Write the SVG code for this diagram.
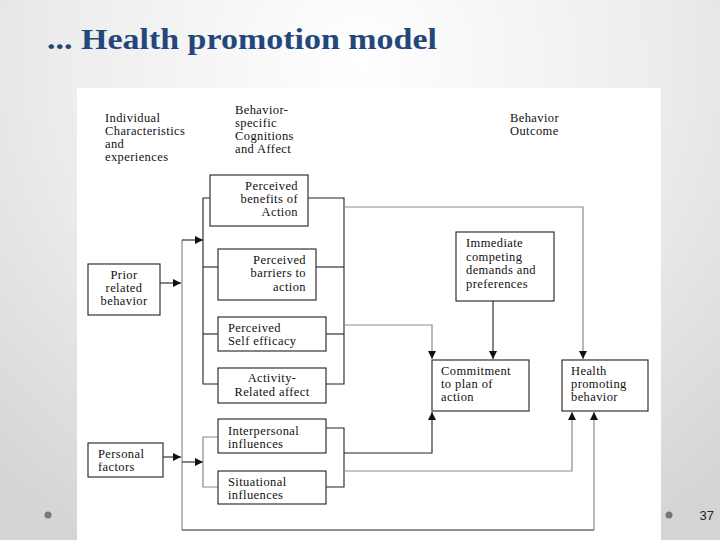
<svg xmlns="http://www.w3.org/2000/svg" width="720" height="540" viewBox="0 0 720 540">
<defs>
<radialGradient id="bg" cx="360" cy="60" r="560" gradientUnits="userSpaceOnUse">
<stop offset="0" stop-color="#ffffff"/>
<stop offset="0.55" stop-color="#ececec"/>
<stop offset="1" stop-color="#d4d4d4"/>
</radialGradient>
<marker id="ah" viewBox="0 0 10 10" refX="10" refY="5" markerWidth="8" markerHeight="8" markerUnits="userSpaceOnUse" orient="auto">
<path d="M0,0 L10,5 L0,10 z" fill="#111"/>
</marker>
</defs>
<style>
.t{font-family:"Liberation Serif","Times New Roman",serif;font-size:12.5px;letter-spacing:0.4px;fill:#111}
.box{fill:#fff;stroke:#333;stroke-width:1.2}
.ln{fill:none;stroke:#222;stroke-width:1.1}
.lg{fill:none;stroke:#8a8a8a;stroke-width:1.2}
.r{text-anchor:end}
.c{text-anchor:middle}
</style>
<rect x="0" y="0" width="720" height="540" fill="url(#bg)"/>
<text x="47" y="48.5" font-family="'Liberation Serif','Times New Roman',serif" font-weight="bold" font-size="30" fill="#23477A" textLength="390" lengthAdjust="spacingAndGlyphs">... Health promotion model</text>
<rect x="77" y="88" width="584" height="452" fill="#fff"/>
<circle cx="48" cy="515" r="3.5" fill="#777"/>
<circle cx="669" cy="515" r="3.5" fill="#777"/>
<text x="714" y="520" text-anchor="end" font-family="'Liberation Sans',Arial,sans-serif" font-size="13" fill="#222">37</text>

<g id="headers">
<text class="t" x="105" y="122">Individual</text>
<text class="t" x="105" y="135">Characteristics</text>
<text class="t" x="105" y="148">and</text>
<text class="t" x="105" y="161">experiences</text>
<text class="t" x="235" y="114">Behavior-</text>
<text class="t" x="235" y="127">specific</text>
<text class="t" x="235" y="140">Cognitions</text>
<text class="t" x="235" y="153">and Affect</text>
<text class="t" x="510" y="122">Behavior</text>
<text class="t" x="510" y="135">Outcome</text>
</g>

<g id="connectors">
<!-- prior related behavior -->
<path class="ln" d="M160,283 L181,283" marker-end="url(#ah)"/>
<path class="lg" d="M182,530 L182,240"/>
<path class="ln" d="M182,240 L203,240" marker-end="url(#ah)"/>
<path class="ln" d="M182,530 L594,530"/>
<path class="lg" d="M594,530 L594,412" marker-end="url(#ah)"/>
<!-- left bracket cognitions -->
<path class="ln" d="M210,198 L203,198 L203,384 L218,384"/>
<path class="ln" d="M203,267 L218,267"/>
<path class="ln" d="M203,334 L218,334"/>
<!-- right bracket cognitions -->
<path class="ln" d="M308,198 L344,198 L344,384 L326,384"/>
<path class="ln" d="M316,267 L344,267"/>
<path class="ln" d="M326,334 L344,334"/>
<path class="lg" d="M344,207 L583,207 L583,359" marker-end="url(#ah)"/>
<path class="lg" d="M344,325 L432,325 L432,359" marker-end="url(#ah)"/>
<!-- immediate competing -->
<path class="ln" d="M493,301 L493,359" marker-end="url(#ah)"/>
<!-- personal factors -->
<path class="ln" d="M163,457 L181,457" marker-end="url(#ah)"/>
<path class="ln" d="M182,462 L203,462" marker-end="url(#ah)"/>
<path class="lg" d="M218,437 L203,437 L203,487 L218,487"/>
<!-- right bracket influences -->
<path class="ln" d="M326,428 L344,428 L344,487 L326,487"/>
<path class="ln" d="M344,453 L432,453 L432,412" marker-end="url(#ah)"/>
<path class="lg" d="M344,471 L572,471 L572,412" marker-end="url(#ah)"/>
</g>

<g id="benefits">
<rect class="box" x="210" y="175" width="98" height="51"/>
<text class="t r" x="298" y="190">Perceived</text>
<text class="t r" x="298" y="203">benefits of</text>
<text class="t r" x="298" y="216">Action</text>
</g>
<g id="barriers">
<rect class="box" x="218" y="249" width="98" height="51"/>
<text class="t r" x="306" y="264">Perceived</text>
<text class="t r" x="306" y="277">barriers to</text>
<text class="t r" x="306" y="291">action</text>
</g>
<g id="selfefficacy">
<rect class="box" x="218" y="317" width="108" height="34"/>
<text class="t" x="228" y="332">Perceived</text>
<text class="t" x="228" y="345">Self efficacy</text>
</g>
<g id="activity">
<rect class="box" x="218" y="368" width="108" height="35"/>
<text class="t c" x="272" y="382">Activity-</text>
<text class="t c" x="272" y="396">Related affect</text>
</g>
<g id="interpersonal">
<rect class="box" x="218" y="419" width="108" height="34"/>
<text class="t" x="228" y="435">Interpersonal</text>
<text class="t" x="228" y="448">influences</text>
</g>
<g id="situational">
<rect class="box" x="218" y="471" width="108" height="33"/>
<text class="t" x="228" y="486">Situational</text>
<text class="t" x="228" y="499">influences</text>
</g>
<g id="prior">
<rect class="box" x="88" y="264" width="72" height="51"/>
<text class="t c" x="124" y="279">Prior</text>
<text class="t c" x="124" y="292">related</text>
<text class="t c" x="124" y="305">behavior</text>
</g>
<g id="personal">
<rect class="box" x="88" y="443" width="75" height="34"/>
<text class="t" x="98" y="458">Personal</text>
<text class="t" x="98" y="471">factors</text>
</g>
<g id="immediate">
<rect class="box" x="456" y="232" width="98" height="69"/>
<text class="t" x="466" y="247">Immediate</text>
<text class="t" x="466" y="261">competing</text>
<text class="t" x="466" y="274">demands and</text>
<text class="t" x="466" y="288">preferences</text>
</g>
<g id="commitment">
<rect class="box" x="432" y="360" width="97" height="51"/>
<text class="t" x="441" y="375">Commitment</text>
<text class="t" x="441" y="388">to plan of</text>
<text class="t" x="441" y="401">action</text>
</g>
<g id="health">
<rect class="box" x="562" y="360" width="86" height="51"/>
<text class="t" x="571" y="375">Health</text>
<text class="t" x="571" y="388">promoting</text>
<text class="t" x="571" y="401">behavior</text>
</g>
</svg>
